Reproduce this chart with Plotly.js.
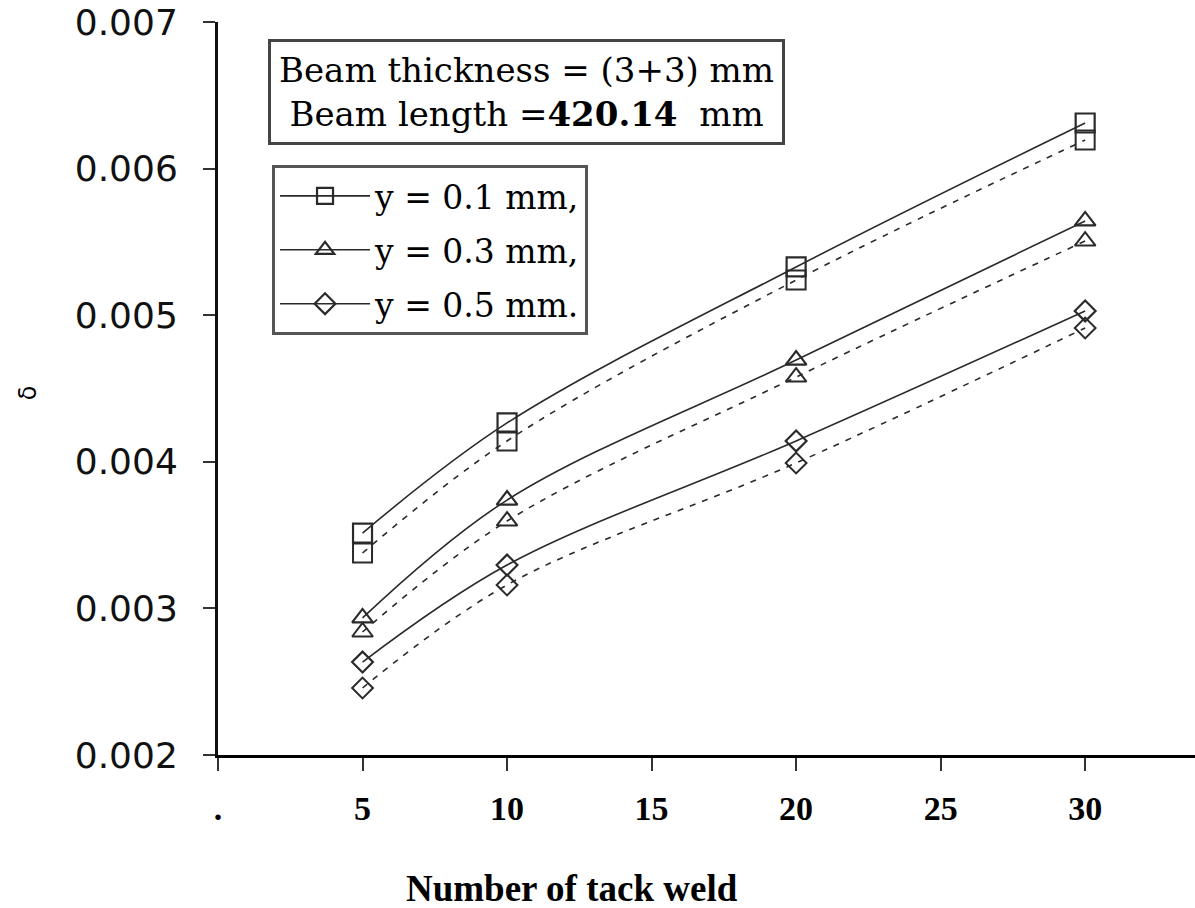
<!DOCTYPE html>
<html>
<head>
<meta charset="utf-8">
<script src="https://cdn.plot.ly/plotly-3.0.1.min.js"></script>
<style>html,body{margin:0;padding:0;background:#fff;}#chart{width:1195px;height:908px;}</style>
</head>
<body>
<div id="chart"></div>
<script>
const tackWelds = [5, 10, 20, 30];
const y01Solid  = [0.003514, 0.004265, 0.005329, 0.006311];
const y01Dashed = [0.003378, 0.004142, 0.005240, 0.006195];
const y03Solid  = [0.002935, 0.003739, 0.004694, 0.005643];
const y03Dashed = [0.002839, 0.003596, 0.004578, 0.005506];
const y05Solid  = [0.002634, 0.003296, 0.004142, 0.005029];
const y05Dashed = [0.002457, 0.003160, 0.003992, 0.004913];
const seriesNames = ['y = 0.1 mm,', 'y = 0.3 mm,', 'y = 0.5 mm.'];
const xTickVals = [0, 5, 10, 15, 20, 25, 30];
const xTickText = ['.', '5', '10', '15', '20', '25', '30'];
const yTickVals = [0.002, 0.003, 0.004, 0.005, 0.006, 0.007];
const yTickText = ['0.002', '0.003', '0.004', '0.005', '0.006', '0.007'];
const xTitle = 'Number of tack weld';
const yTitle = 'δ';
const infoText = 'Beam thickness = (3+3) mm<br>Beam length =<b>420.14</b>  mm';

const ink = '#2a2a2a';
function solid(y, name, symbol, size, group) {
  return {x: tackWelds, y: y, name: name, type: 'scatter', mode: 'lines+markers',
    legendgroup: group,
    line: {color: ink, width: 1.6, shape: 'spline', smoothing: 1},
    marker: {symbol: symbol, size: size, color: ink, line: {width: 2.2, color: ink}}};
}
function dashed(y, symbol, size, group) {
  return {x: tackWelds, y: y, type: 'scatter', mode: 'lines+markers', showlegend: false,
    legendgroup: group,
    line: {color: ink, width: 1.6, dash: '6px,7px', shape: 'spline', smoothing: 1},
    marker: {symbol: symbol, size: size, color: ink, line: {width: 2, color: ink}}};
}
const data = [
  solid(y01Solid, seriesNames[0], 'square-open', 19, 'a'),
  dashed(y01Dashed, 'square-open', 19, 'a'),
  solid(y03Solid, seriesNames[1], 'triangle-up-open', 18, 'b'),
  dashed(y03Dashed, 'triangle-up-open', 18, 'b'),
  solid(y05Solid, seriesNames[2], 'diamond-open', 16, 'c'),
  dashed(y05Dashed, 'diamond-open', 16, 'c')
];

const layout = {
  width: 1195, height: 908,
  margin: {l: 218, r: 0, t: 22, b: 153},
  paper_bgcolor: '#fff', plot_bgcolor: '#fff',
  showlegend: true,
  xaxis: {
    range: [0, 33.8], tickmode: 'array', tickvals: xTickVals, ticktext: xTickText,
    showgrid: false, zeroline: false, showline: true, linecolor: '#000', linewidth: 3,
    ticks: 'outside', ticklen: 13, tickwidth: 2, tickcolor: '#333',
    tickfont: {family: 'Liberation Serif', size: 34, color: '#000', weight: 'bold'},
    ticklabelstandoff: 8
  },
  yaxis: {
    range: [0.002, 0.007], tickmode: 'array', tickvals: yTickVals, ticktext: yTickText,
    showgrid: false, zeroline: false, showline: true, linecolor: '#111', linewidth: 3,
    ticks: 'outside', ticklen: 12, tickwidth: 2, tickcolor: '#333',
    tickfont: {family: 'DejaVu Sans', size: 36, color: '#111'},
    ticklabelstandoff: 18
  },
  legend: {
    x: 0.0553, y: 0.805, xanchor: 'left', yanchor: 'top',
    bordercolor: '#555', borderwidth: 3, bgcolor: '#fff',
    font: {family: 'DejaVu Serif', size: 33, color: '#000'},
    traceorder: 'grouped', tracegroupgap: 8, itemwidth: 90
  },
  annotations: [{
    xref: 'paper', yref: 'paper', x: 0.316, y: 0.905, xanchor: 'center', yanchor: 'middle',
    showarrow: false, align: 'center', text: infoText,
    font: {family: 'DejaVu Serif', size: 34, color: '#000'},
    bordercolor: '#444', borderwidth: 3, borderpad: 8, bgcolor: '#fff'
  }, {
    xref: 'paper', yref: 'paper', x: 0.362, y: -0.182, xanchor: 'center', yanchor: 'middle',
    showarrow: false, text: '<b>' + xTitle + '</b>',
    font: {family: 'Liberation Serif', size: 37, color: '#000'}
  }, {
    xref: 'paper', yref: 'paper', x: -0.1945, y: 0.495, xanchor: 'center', yanchor: 'middle',
    showarrow: false, textangle: -90, text: yTitle,
    font: {family: 'DejaVu Sans', size: 24, color: '#000'}
  }]
};
Plotly.newPlot('chart', data, layout, {displayModeBar: false, staticPlot: true});
</script>
</body>
</html>
